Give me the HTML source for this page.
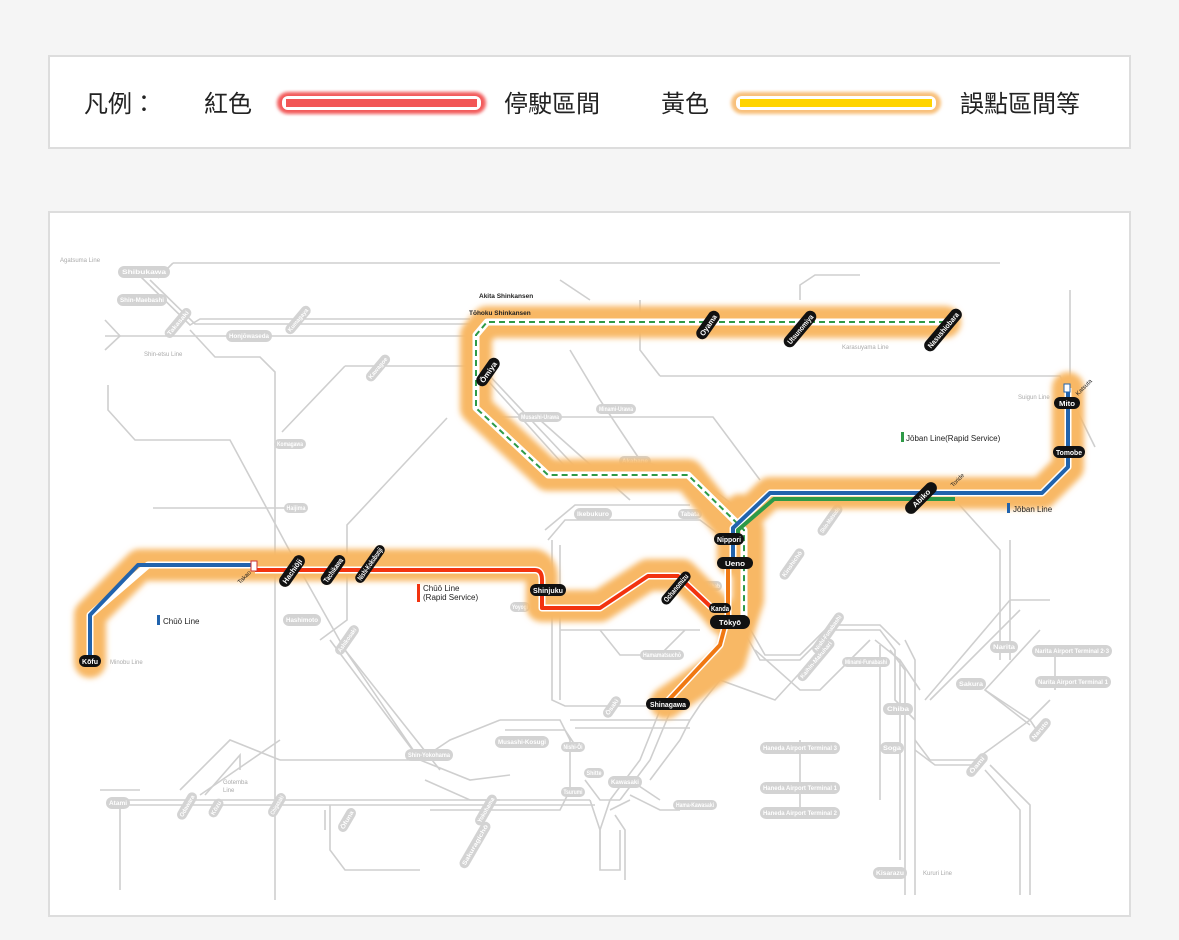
<!DOCTYPE html>
<html><head><meta charset="utf-8"><style>
html,body{margin:0;padding:0;background:#f5f5f5;width:1179px;height:940px;overflow:hidden}
svg{position:absolute;left:0;top:0}
.g{fill:none;stroke:#cfcfcf;stroke-width:1.6}
.lb rect{fill:#d3d3d3}
.lb text{fill:#fff;font:bold 6px "Liberation Sans",sans-serif;text-anchor:middle}
.st rect{fill:#111}
.st text{fill:#fff;font:bold 7.5px "Liberation Sans",sans-serif;text-anchor:middle}
.t{font-family:"Liberation Sans",sans-serif}
.cj{font-family:"Liberation Sans","Noto Sans CJK TC",sans-serif;font-size:24px;fill:#222}
</style></head><body>
<svg width="1179" height="940" viewBox="0 0 1179 940">
<defs>
<filter id="b" x="-20%" y="-20%" width="140%" height="140%"><feGaussianBlur stdDeviation="3"/></filter>
<filter id="b2"><feGaussianBlur stdDeviation="1.5"/></filter>
</defs>
<rect x="49" y="56" width="1081" height="92" fill="#fff" stroke="#ddd" stroke-width="2"/>
<text x="84" y="112" class="cj">凡例：</text>
<text x="204" y="112" class="cj">紅色</text>
<rect x="277" y="92" width="209" height="22" rx="11" fill="#f25a5a" filter="url(#b2)"/>
<rect x="282" y="96" width="199" height="14" rx="6" fill="#fff"/>
<rect x="286" y="99" width="191" height="8" fill="#f25656"/>
<text x="504" y="112" class="cj">停駛區間</text>
<text x="661" y="112" class="cj">黃色</text>
<rect x="731" y="92" width="210" height="22" rx="11" fill="#f8c07a" filter="url(#b2)"/>
<rect x="736" y="96" width="200" height="14" rx="6" fill="#fff"/>
<rect x="740" y="99" width="192" height="8" fill="#ffd400"/>
<text x="960" y="112" class="cj">誤點區間等</text>

<rect x="49" y="212" width="1081" height="704" fill="#fff" stroke="#ddd" stroke-width="2"/>

<g class="g">
<path d="M173,263 H1000"/>
<path d="M158,278 L173,263"/>
<path d="M140,276 L190,325 L200,319 H470"/>
<path d="M150,280 L195,324 H470"/>
<path d="M105,336 H470"/>
<path d="M105,320 L120,336 L105,350"/>
<path d="M190,330 L215,357 L260,357 L275,372 V900"/>
<path d="M108,385 V410 L135,440 H230 L300,570 L345,650 L420,760"/>
<path d="M153,508 H290"/>
<path d="M345,366 H470 M345,366 L282,432"/>
<path d="M447,418 L347,525 V620 L320,640"/>
<path d="M480,372 L570,472 M486,372 L580,472 M540,420 L630,500"/>
<path d="M478,417 H713 L760,480"/>
<path d="M570,350 L600,400 L640,460 L700,480 L740,510"/>
<path d="M660,376 H1060 L1095,447 M660,376 L640,350 V300"/>
<path d="M1070,290 V390"/>
<path d="M800,300 V285 L815,275 H860"/>
<path d="M730,330 L740,322 M560,280 L590,300"/>
<path d="M548,540 L565,520 H700 L740,550 M552,540 V700 L565,706 H650 M560,545 V700"/>
<path d="M545,530 L575,505 H690 M560,630 H700 M600,630 L620,655 L660,655 L685,630"/>
<path d="M740,625 L760,660 H800 L830,630 H880 L895,650 V700 L915,720 M745,620 L765,655 H800 L830,625 H880 L900,645"/>
<path d="M755,650 L800,690 H820 L870,640 M880,645 V800"/>
<path d="M875,640 L900,660 V860 M905,640 L915,660 V895 M890,650 L905,670 V895"/>
<path d="M900,660 L920,690 M915,740 L930,760 H975 L1030,720 L1050,700 M915,750 L935,765 H980"/>
<path d="M925,700 L1010,600 L1050,600 M930,700 L1020,610 M1010,540 V660"/>
<path d="M955,500 L1000,550 V660 M1040,630 L985,690 L1030,725"/>
<path d="M985,690 L1030,720 L1040,735 M985,770 L1020,810 V895 M990,765 L1030,805 V895"/>
<path d="M1040,655 H1110 M1055,655 V690"/>
<path d="M800,740 V815"/>
<path d="M830,640 L775,700 L720,680"/>
<path d="M660,710 L640,760 L610,800 L600,830 V860 M670,712 L650,760 L620,800"/>
<path d="M720,680 L700,705 L690,720 L680,740 L650,780"/>
<path d="M500,720 H560 L570,740 V790 L560,810 H430 M505,730 H565 L575,745"/>
<path d="M690,720 H570 M690,728 H575"/>
<path d="M110,800 H590 M110,805 H595 M100,790 H140"/>
<path d="M120,805 V890 M280,760 H420 L450,740 L500,720"/>
<path d="M180,790 L230,740 L280,760 M200,795 L280,740"/>
<path d="M330,805 V850 L345,870 H420 M325,810 V830"/>
<path d="M425,780 L470,800 L500,800"/>
<path d="M330,640 L420,760 L470,780 L510,775"/>
<path d="M345,650 L440,770"/>
<path d="M630,780 L660,800 M630,795 L660,810 H680"/>
<path d="M585,780 L600,800 L620,800"/>
<path d="M205,795 L240,755 V770"/>
<path d="M590,800 L600,830 V870 L620,870 V830"/>
<path d="M610,810 L630,800 M615,815 L625,830 V880"/>
</g>

<g class="lb">
<g transform="translate(144,272)"><rect x="-26" y="-6" width="52" height="12" rx="6"/><text y="2" textLength="44" lengthAdjust="spacingAndGlyphs">Shibukawa</text></g>
<g transform="translate(142,300)"><rect x="-25" y="-6" width="50" height="12" rx="6"/><text y="2" textLength="44" lengthAdjust="spacingAndGlyphs">Shin-Maebashi</text></g>
<g transform="translate(178,323) rotate(-50)"><rect x="-18" y="-5" width="36" height="10" rx="5"/><text y="2" textLength="30" lengthAdjust="spacingAndGlyphs">Takasaki</text></g>
<g transform="translate(249,336)"><rect x="-23" y="-6" width="46" height="12" rx="6"/><text y="2" textLength="40" lengthAdjust="spacingAndGlyphs">Honjōwaseda</text></g>
<g transform="translate(298,320) rotate(-50)"><rect x="-17" y="-5" width="34" height="10" rx="5"/><text y="2" textLength="28" lengthAdjust="spacingAndGlyphs">Kumagaya</text></g>
<g transform="translate(378,368) rotate(-50)"><rect x="-16" y="-5" width="32" height="10" rx="5"/><text y="2" textLength="26" lengthAdjust="spacingAndGlyphs">Kawagoe</text></g>
<g transform="translate(290,444)"><rect x="-16" y="-5" width="32" height="10" rx="5"/><text y="2" textLength="26" lengthAdjust="spacingAndGlyphs">Komagawa</text></g>
<g transform="translate(296,508)"><rect x="-12" y="-5" width="24" height="10" rx="5"/><text y="2" textLength="19" lengthAdjust="spacingAndGlyphs">Haijima</text></g>
<g transform="translate(302,620)"><rect x="-19" y="-6" width="38" height="12" rx="6"/><text y="2" textLength="32" lengthAdjust="spacingAndGlyphs">Hashimoto</text></g>
<g transform="translate(347,640) rotate(-55)"><rect x="-17" y="-5" width="34" height="10" rx="5"/><text y="2" textLength="28" lengthAdjust="spacingAndGlyphs">Ashikosaki</text></g>
<g transform="translate(540,417)"><rect x="-22" y="-5" width="44" height="10" rx="5"/><text y="2" textLength="38" lengthAdjust="spacingAndGlyphs">Musashi-Urawa</text></g>
<g transform="translate(616,409)"><rect x="-20" y="-5" width="40" height="10" rx="5"/><text y="2" textLength="34" lengthAdjust="spacingAndGlyphs">Minami-Urawa</text></g>
<g transform="translate(635,461)"><rect x="-16" y="-5" width="32" height="10" rx="5"/><text y="2" textLength="26" lengthAdjust="spacingAndGlyphs">Akabane</text></g>
<g transform="translate(593,514)"><rect x="-19" y="-6" width="38" height="12" rx="6"/><text y="2" textLength="32" lengthAdjust="spacingAndGlyphs">Ikebukuro</text></g>
<g transform="translate(690,514)"><rect x="-12" y="-5" width="24" height="10" rx="5"/><text y="2" textLength="19" lengthAdjust="spacingAndGlyphs">Tabata</text></g>
<g transform="translate(520,607)"><rect x="-10" y="-5" width="20" height="10" rx="5"/><text y="2" textLength="16" lengthAdjust="spacingAndGlyphs">Yoyogi</text></g>
<g transform="translate(712,586)"><rect x="-10" y="-5" width="20" height="10" rx="5"/><text y="2" textLength="16" lengthAdjust="spacingAndGlyphs">Akihab</text></g>
<g transform="translate(662,655)"><rect x="-22" y="-5" width="44" height="10" rx="5"/><text y="2" textLength="38" lengthAdjust="spacingAndGlyphs">Hamamatsuchō</text></g>
<g transform="translate(612,707) rotate(-55)"><rect x="-12" y="-5" width="24" height="10" rx="5"/><text y="2" textLength="18" lengthAdjust="spacingAndGlyphs">Ōsaki</text></g>
<g transform="translate(737,547) rotate(-55)"><rect x="-20" y="-5" width="40" height="10" rx="5"/><text y="2" textLength="34" lengthAdjust="spacingAndGlyphs">Shin-Matsudo</text></g>
<g transform="translate(792,564) rotate(-55)"><rect x="-18" y="-5" width="36" height="10" rx="5"/><text y="2" textLength="30" lengthAdjust="spacingAndGlyphs">Kinshichō</text></g>
<g transform="translate(830,520) rotate(-55)"><rect x="-18" y="-5" width="36" height="10" rx="5"/><text y="2" textLength="30" lengthAdjust="spacingAndGlyphs">Shin-Matsudo</text></g>
<g transform="translate(828,633) rotate(-55)"><rect x="-24" y="-5" width="48" height="10" rx="5"/><text y="2" textLength="42" lengthAdjust="spacingAndGlyphs">Nishi-Funabashi</text></g>
<g transform="translate(816,660) rotate(-50)"><rect x="-26" y="-5" width="52" height="10" rx="5"/><text y="2" textLength="46" lengthAdjust="spacingAndGlyphs">Kaihin-Makuhari</text></g>
<g transform="translate(866,662)"><rect x="-24" y="-5" width="48" height="10" rx="5"/><text y="2" textLength="42" lengthAdjust="spacingAndGlyphs">Minami-Funabashi</text></g>
<g transform="translate(1004,647)"><rect x="-14" y="-6" width="28" height="12" rx="6"/><text y="2" textLength="22" lengthAdjust="spacingAndGlyphs">Narita</text></g>
<g transform="translate(1072,651)"><rect x="-40" y="-6" width="80" height="12" rx="6"/><text y="2" textLength="74" lengthAdjust="spacingAndGlyphs">Narita Airport Terminal 2·3</text></g>
<g transform="translate(1073,682)"><rect x="-38" y="-6" width="76" height="12" rx="6"/><text y="2" textLength="70" lengthAdjust="spacingAndGlyphs">Narita Airport Terminal 1</text></g>
<g transform="translate(971,684)"><rect x="-15" y="-6" width="30" height="12" rx="6"/><text y="2" textLength="24" lengthAdjust="spacingAndGlyphs">Sakura</text></g>
<g transform="translate(898,709)"><rect x="-15" y="-6" width="30" height="12" rx="6"/><text y="2" textLength="22" lengthAdjust="spacingAndGlyphs">Chiba</text></g>
<g transform="translate(892,748)"><rect x="-12" y="-6" width="24" height="12" rx="6"/><text y="2" textLength="18" lengthAdjust="spacingAndGlyphs">Soga</text></g>
<g transform="translate(1040,730) rotate(-50)"><rect x="-14" y="-5" width="28" height="10" rx="5"/><text y="2" textLength="22" lengthAdjust="spacingAndGlyphs">Naruto</text></g>
<g transform="translate(977,765) rotate(-50)"><rect x="-14" y="-5" width="28" height="10" rx="5"/><text y="2" textLength="20" lengthAdjust="spacingAndGlyphs">Ōami</text></g>
<g transform="translate(890,873)"><rect x="-17" y="-6" width="34" height="12" rx="6"/><text y="2" textLength="28" lengthAdjust="spacingAndGlyphs">Kisarazu</text></g>
<g transform="translate(800,748)"><rect x="-40" y="-6" width="80" height="12" rx="6"/><text y="2" textLength="74" lengthAdjust="spacingAndGlyphs">Haneda Airport Terminal 3</text></g>
<g transform="translate(800,788)"><rect x="-40" y="-6" width="80" height="12" rx="6"/><text y="2" textLength="74" lengthAdjust="spacingAndGlyphs">Haneda Airport Terminal 1</text></g>
<g transform="translate(800,813)"><rect x="-40" y="-6" width="80" height="12" rx="6"/><text y="2" textLength="74" lengthAdjust="spacingAndGlyphs">Haneda Airport Terminal 2</text></g>
<g transform="translate(429,755)"><rect x="-24" y="-6" width="48" height="12" rx="6"/><text y="2" textLength="42" lengthAdjust="spacingAndGlyphs">Shin-Yokohama</text></g>
<g transform="translate(522,742)"><rect x="-27" y="-6" width="54" height="12" rx="6"/><text y="2" textLength="48" lengthAdjust="spacingAndGlyphs">Musashi-Kosugi</text></g>
<g transform="translate(573,747)"><rect x="-12" y="-5" width="24" height="10" rx="5"/><text y="2" textLength="19" lengthAdjust="spacingAndGlyphs">Nishi-Ōi</text></g>
<g transform="translate(594,773)"><rect x="-10" y="-5" width="20" height="10" rx="5"/><text y="2" textLength="15" lengthAdjust="spacingAndGlyphs">Shitte</text></g>
<g transform="translate(573,792)"><rect x="-12" y="-5" width="24" height="10" rx="5"/><text y="2" textLength="19" lengthAdjust="spacingAndGlyphs">Tsurumi</text></g>
<g transform="translate(625,782)"><rect x="-17" y="-6" width="34" height="12" rx="6"/><text y="2" textLength="28" lengthAdjust="spacingAndGlyphs">Kawasaki</text></g>
<g transform="translate(695,805)"><rect x="-22" y="-5" width="44" height="10" rx="5"/><text y="2" textLength="38" lengthAdjust="spacingAndGlyphs">Hama-Kawasaki</text></g>
<g transform="translate(118,803)"><rect x="-12" y="-6" width="24" height="12" rx="6"/><text y="2" textLength="18" lengthAdjust="spacingAndGlyphs">Atami</text></g>
<g transform="translate(187,806) rotate(-60)"><rect x="-15" y="-5" width="30" height="10" rx="5"/><text y="2" textLength="24" lengthAdjust="spacingAndGlyphs">Odawara</text></g>
<g transform="translate(216,808) rotate(-60)"><rect x="-10" y="-5" width="20" height="10" rx="5"/><text y="2" textLength="15" lengthAdjust="spacingAndGlyphs">Kōzu</text></g>
<g transform="translate(277,805) rotate(-60)"><rect x="-13" y="-5" width="26" height="10" rx="5"/><text y="2" textLength="21" lengthAdjust="spacingAndGlyphs">Chigasaki</text></g>
<g transform="translate(347,820) rotate(-60)"><rect x="-13" y="-5" width="26" height="10" rx="5"/><text y="2" textLength="20" lengthAdjust="spacingAndGlyphs">Ōfuna</text></g>
<g transform="translate(486,810) rotate(-60)"><rect x="-17" y="-5" width="34" height="10" rx="5"/><text y="2" textLength="28" lengthAdjust="spacingAndGlyphs">Yokohama</text></g>
<g transform="translate(475,845) rotate(-60)"><rect x="-26" y="-5" width="52" height="10" rx="5"/><text y="2" textLength="46" lengthAdjust="spacingAndGlyphs">Sakuragichō</text></g>
</g>
<g class="t" font-size="6" fill="#aaa">
<text x="60" y="262">Agatsuma Line</text>
<text x="144" y="356">Shin-etsu Line</text>
<text x="110" y="664">Minobu Line</text>
<text x="223" y="784">Gotemba</text><text x="223" y="792">Line</text>
<text x="842" y="349">Karasuyama Line</text>
<text x="1018" y="399">Suigun Line</text>
<text x="923" y="875">Kururi Line</text>
</g>

<g fill="none" stroke="#f8b865" stroke-width="32" stroke-linejoin="round" stroke-linecap="round" filter="url(#b)">
<path d="M945,322 H487 L476,335 V408 L548,475 H688 L730,528"/>
<path d="M733,560 V528 L770,493 H1042 L1068,467 V388"/>
<path d="M90,662 V615 L140,565 H535 Q542,568 542,578 V606 H600 L648,575 H682 L712,605 L724,620"/>
<path d="M740,510 L748,530 V600 L740,625 L730,660 L666,703"/>
</g>
<g fill="none" stroke="#fff" stroke-width="7" stroke-linejoin="round">
<path d="M945,322 H487 L476,335 V408 L548,475 H688 L744,530 V620"/>
<path d="M733,560 V528 L770,493 H1042 L1068,467 V388"/>
<path d="M90,662 V615 L148,565 H255 M255,570 H535 Q542,570 542,580 V608 H600 L648,576 H678 L712,608"/>
<path d="M728,565 V615 L720,645 L664,705"/>
</g>
<path d="M945,322 H487 L476,335 V408 L548,475 H688 L744,530 V620" fill="none" stroke="#2e9a47" stroke-width="2" stroke-dasharray="6,4"/>
<path d="M733,560 V528 L770,493 H1042 L1068,467 V388" fill="none" stroke="#2163ad" stroke-width="4" stroke-linejoin="round"/>
<path d="M738,540 V530 L774,499 H955" fill="none" stroke="#2e9a47" stroke-width="4" stroke-linejoin="round"/>
<path d="M90,662 V615 L138,565 H255" fill="none" stroke="#2163ad" stroke-width="4" stroke-linejoin="round"/>
<path d="M255,570 H535 Q542,570 542,580 V608 H600 L648,576 H678 L712,608 L722,610" fill="none" stroke="#f2330f" stroke-width="4" stroke-linejoin="round"/>
<path d="M728,565 V615 L720,645 L664,705" fill="none" stroke="#f07812" stroke-width="4" stroke-linejoin="round"/>

<g class="st">
<g transform="translate(488,372) rotate(-55)"><rect x="-16" y="-6" width="32" height="12" rx="6"/><text y="3" textLength="24" lengthAdjust="spacingAndGlyphs">Ōmiya</text></g>
<g transform="translate(708,325) rotate(-55)"><rect x="-16" y="-6" width="32" height="12" rx="6"/><text y="3" textLength="24" lengthAdjust="spacingAndGlyphs">Oyama</text></g>
<g transform="translate(800,329) rotate(-50)"><rect x="-22" y="-6" width="44" height="12" rx="6"/><text y="3" textLength="36" lengthAdjust="spacingAndGlyphs">Utsunomiya</text></g>
<g transform="translate(943,330) rotate(-50)"><rect x="-26" y="-6" width="52" height="12" rx="6"/><text y="3" textLength="44" lengthAdjust="spacingAndGlyphs">Nasushiobara</text></g>
<g transform="translate(1067,403)"><rect x="-13" y="-6" width="26" height="12" rx="6"/><text y="3" textLength="16" lengthAdjust="spacingAndGlyphs">Mito</text></g>
<g transform="translate(1069,452)"><rect x="-16" y="-6" width="32" height="12" rx="6"/><text y="3" textLength="26" lengthAdjust="spacingAndGlyphs">Tomobe</text></g>
<g transform="translate(921,498) rotate(-45)"><rect x="-20" y="-6" width="40" height="12" rx="6"/><text y="3" textLength="22" lengthAdjust="spacingAndGlyphs">Abiko</text></g>
<g transform="translate(729,539)"><rect x="-15" y="-6" width="30" height="12" rx="6"/><text y="3" textLength="24" lengthAdjust="spacingAndGlyphs">Nippori</text></g>
<g transform="translate(735,563)"><rect x="-18" y="-6" width="36" height="12" rx="6"/><text y="3" textLength="20" lengthAdjust="spacingAndGlyphs">Ueno</text></g>
<g transform="translate(720,608)"><rect x="-11" y="-5" width="22" height="10" rx="5"/><text y="3" textLength="18" lengthAdjust="spacingAndGlyphs">Kanda</text></g>
<g transform="translate(730,622)"><rect x="-20" y="-7" width="40" height="14" rx="7"/><text y="3" textLength="22" lengthAdjust="spacingAndGlyphs">Tōkyō</text></g>
<g transform="translate(668,704)"><rect x="-22" y="-6" width="44" height="12" rx="6"/><text y="3" textLength="36" lengthAdjust="spacingAndGlyphs">Shinagawa</text></g>
<g transform="translate(548,590)"><rect x="-18" y="-6" width="36" height="12" rx="6"/><text y="3" textLength="30" lengthAdjust="spacingAndGlyphs">Shinjuku</text></g>
<g transform="translate(676,588) rotate(-50)"><rect x="-20" y="-5" width="40" height="10" rx="5"/><text y="2.5" textLength="34" lengthAdjust="spacingAndGlyphs" font-size="6">Ochanomizu</text></g>
<g transform="translate(292,571) rotate(-55)"><rect x="-18" y="-6" width="36" height="12" rx="6"/><text y="3" textLength="28" lengthAdjust="spacingAndGlyphs">Hachiōji</text></g>
<g transform="translate(333,570) rotate(-55)"><rect x="-17" y="-6" width="34" height="12" rx="6"/><text y="3" textLength="28" lengthAdjust="spacingAndGlyphs">Tachikawa</text></g>
<g transform="translate(370,564) rotate(-55)"><rect x="-22" y="-5" width="44" height="10" rx="5"/><text y="2.5" textLength="38" lengthAdjust="spacingAndGlyphs" font-size="6">Nishi-Kokubunji</text></g>
<g transform="translate(90,661)"><rect x="-11" y="-6" width="22" height="12" rx="6"/><text y="3" textLength="16" lengthAdjust="spacingAndGlyphs">Kōfu</text></g>
</g>
<rect x="251" y="561" width="6" height="10" fill="#fff" stroke="#c33" stroke-width="1"/>
<rect x="1064" y="384" width="6" height="8" fill="#fff" stroke="#2163ad" stroke-width="1"/>

<g class="t" fill="#222" font-weight="bold">
<text x="479" y="298" font-size="6.5">Akita Shinkansen</text>
<text x="469" y="315" font-size="6.5">Tōhoku Shinkansen</text>
<rect x="901" y="432" width="3" height="10" fill="#2e9a47"/><text x="906" y="441" font-size="8" font-weight="normal">Jōban Line(Rapid Service)</text>
<rect x="1007" y="503" width="3" height="10" fill="#2163ad"/><text x="1013" y="512" font-size="8" font-weight="normal">Jōban Line</text>
<rect x="417" y="584" width="3" height="18" fill="#f2330f"/><text x="423" y="591" font-size="8" font-weight="normal">Chūō Line</text><text x="423" y="600" font-size="8" font-weight="normal">(Rapid Service)</text>
<rect x="157" y="615" width="3" height="10" fill="#2163ad"/><text x="163" y="624" font-size="8" font-weight="normal">Chūō Line</text>
<text x="237" y="583" font-size="6" font-weight="normal" transform="rotate(-45 240 580)">Takao</text>
<text x="950" y="486" font-size="6" font-weight="normal" transform="rotate(-45 953 483)">Toride</text>
<text x="1076" y="395" font-size="6" font-weight="normal" transform="rotate(-45 1078 393)">Katsuta</text>
</g>
</svg>
</body></html>
